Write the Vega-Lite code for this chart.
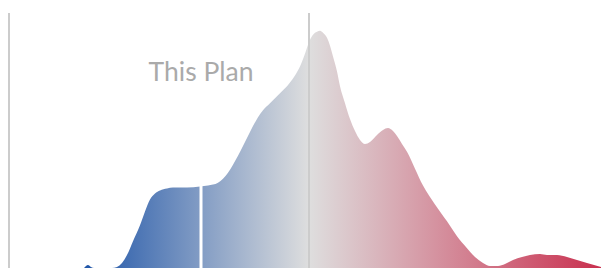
{
  "$schema": "https://vega.github.io/schema/vega-lite/v6.json",
  "width": 601,
  "height": 270,
  "autosize": {"type": "fit", "contains": "padding"},
  "padding": 0,
  "config": {"view": {"stroke": null}},
  "datasets": {
    "dist": [
      {"x": 84, "d": 0}, {"x": 86, "d": 2}, {"x": 88, "d": 3}, {"x": 91, "d": 1}, {"x": 94, "d": 0},
      {"x": 112, "d": 0}, {"x": 117, "d": 1}, {"x": 122, "d": 5}, {"x": 127, "d": 13}, {"x": 133, "d": 27},
      {"x": 140, "d": 43}, {"x": 145, "d": 57}, {"x": 150, "d": 69}, {"x": 155, "d": 75}, {"x": 160, "d": 78},
      {"x": 167, "d": 80}, {"x": 173, "d": 81}, {"x": 187, "d": 81}, {"x": 200, "d": 82}, {"x": 208, "d": 83},
      {"x": 213, "d": 84}, {"x": 218, "d": 86}, {"x": 223, "d": 90}, {"x": 228, "d": 96}, {"x": 233, "d": 104},
      {"x": 238, "d": 113}, {"x": 243, "d": 123}, {"x": 248, "d": 133}, {"x": 253, "d": 143}, {"x": 258, "d": 152},
      {"x": 263, "d": 159}, {"x": 270, "d": 166}, {"x": 277, "d": 173}, {"x": 284, "d": 180}, {"x": 290, "d": 187},
      {"x": 295, "d": 194}, {"x": 300, "d": 203}, {"x": 304, "d": 213}, {"x": 307, "d": 222}, {"x": 310, "d": 230},
      {"x": 313, "d": 235}, {"x": 317, "d": 238}, {"x": 320, "d": 239}, {"x": 323, "d": 237}, {"x": 327, "d": 232},
      {"x": 330, "d": 224}, {"x": 333, "d": 213}, {"x": 337, "d": 198}, {"x": 340, "d": 183}, {"x": 345, "d": 166},
      {"x": 350, "d": 150}, {"x": 355, "d": 138}, {"x": 360, "d": 129}, {"x": 365, "d": 125}, {"x": 370, "d": 127},
      {"x": 377, "d": 134}, {"x": 383, "d": 139}, {"x": 388, "d": 141}, {"x": 393, "d": 138}, {"x": 397, "d": 133},
      {"x": 402, "d": 125}, {"x": 407, "d": 117}, {"x": 415, "d": 100}, {"x": 423, "d": 83}, {"x": 435, "d": 64},
      {"x": 447, "d": 47}, {"x": 457, "d": 32}, {"x": 467, "d": 20}, {"x": 475, "d": 11}, {"x": 483, "d": 5},
      {"x": 490, "d": 2}, {"x": 498, "d": 2}, {"x": 505, "d": 4}, {"x": 513, "d": 8}, {"x": 522, "d": 11},
      {"x": 530, "d": 13}, {"x": 540, "d": 14}, {"x": 547, "d": 13}, {"x": 557, "d": 13}, {"x": 567, "d": 11},
      {"x": 577, "d": 8}, {"x": 587, "d": 5}, {"x": 594, "d": 3}, {"x": 601, "d": 1}
    ],
    "refs": [
      {"x": 9, "kind": "bound"},
      {"x": 309, "kind": "bound"}
    ],
    "plan": [
      {"x": 201, "label": "This Plan"}
    ]
  },
  "layer": [
    {
      "data": {"name": "dist"},
      "mark": {
        "type": "area",
        "interpolate": "monotone",
        "fill": {
          "gradient": "linear",
          "x1": 0, "y1": 0, "x2": 1, "y2": 0,
          "stops": [
            {"offset": 0, "color": "#1f55a8"},
            {"offset": 0.435, "color": "#dedede"},
            {"offset": 1, "color": "#c9304f"}
          ]
        }
      },
      "encoding": {
        "x": {"field": "x", "type": "quantitative", "scale": {"domain": [0, 601], "nice": false, "zero": false}, "axis": null},
        "y": {"field": "d", "type": "quantitative", "scale": {"domain": [0, 270], "nice": false}, "axis": null}
      }
    },
    {
      "data": {"name": "refs"},
      "mark": {"type": "rule", "color": "#cccccc", "strokeWidth": 2},
      "encoding": {
        "x": {"field": "x", "type": "quantitative"},
        "y": {"datum": 0, "type": "quantitative"},
        "y2": {"datum": 257}
      }
    },
    {
      "data": {"name": "plan"},
      "mark": {"type": "rule", "color": "#ffffff", "strokeWidth": 3},
      "encoding": {
        "x": {"field": "x", "type": "quantitative"},
        "y": {"datum": 0, "type": "quantitative"},
        "y2": {"datum": 100}
      }
    },
    {
      "data": {"name": "plan"},
      "mark": {"type": "text", "font": "Lato", "fontSize": 26.5, "color": "#aaaaaa", "align": "center", "baseline": "alphabetic"},
      "encoding": {
        "x": {"field": "x", "type": "quantitative"},
        "y": {"datum": 188, "type": "quantitative"},
        "text": {"field": "label"}
      }
    }
  ]
}
